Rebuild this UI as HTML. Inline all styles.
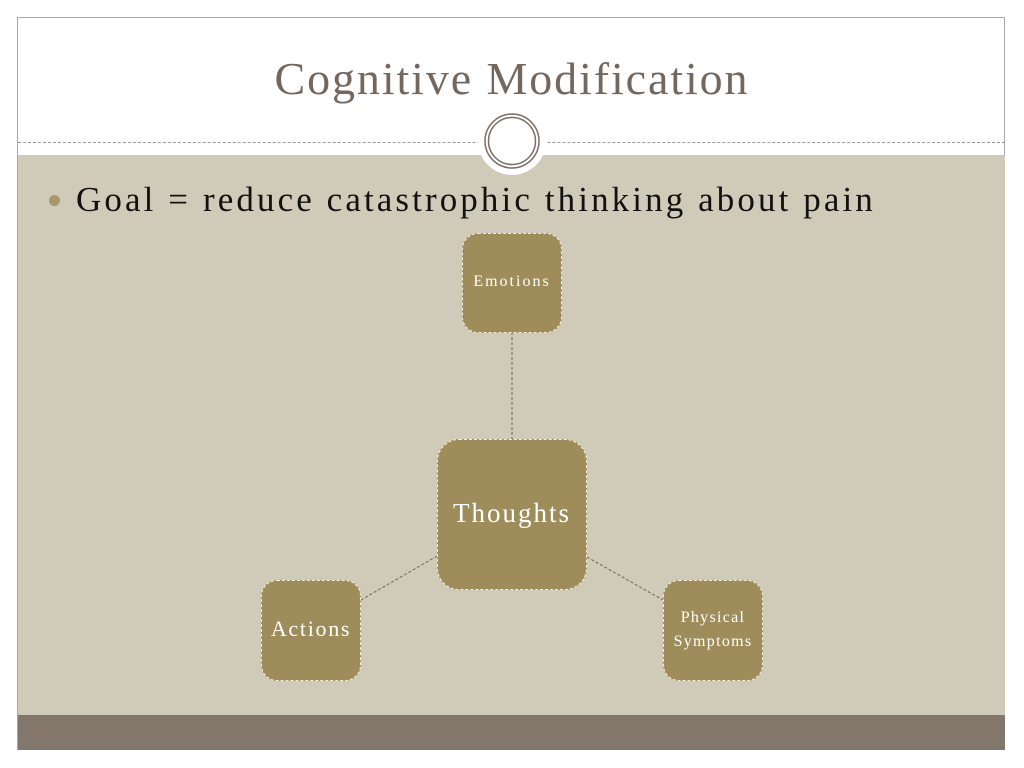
<!DOCTYPE html>
<html><head><meta charset="utf-8"><style>
body{margin:0;width:1024px;height:768px;background:#fff;position:relative;overflow:hidden;font-family:"Liberation Serif",serif}
.frame{position:absolute;left:17px;top:17px;width:988px;height:733px;border:1px solid #a8a8a8;box-sizing:border-box;background:#fff}
.body{position:absolute;left:18px;top:155px;width:987px;height:560px;background:#d0cbb8}
.band{position:absolute;left:18px;top:715px;width:987px;height:35px;background:#83776c}
.dash{position:absolute;left:18px;top:142px;width:987px;border-top:1px dashed #999}
.title{position:absolute;left:0;width:1024px;top:52px;text-align:center;font-size:46px;color:#74675e;letter-spacing:1.9px}
.bullet{position:absolute;left:76px;top:180px;font-size:35px;color:#111;letter-spacing:3.1px}
.dot{position:absolute;left:49px;top:195px;width:11px;height:11px;border-radius:50%;background:#a8976a}
.box{position:absolute;background:#9e8d5b;border:1px dashed #f4eedc;border-radius:16px;box-sizing:border-box;color:#fff;display:flex;align-items:center;justify-content:center;text-align:center}
</style></head><body>
<div class="frame"></div>
<div class="body"></div>
<div class="band"></div>
<div class="dash"></div>
<div class="title">Cognitive Modification</div>
<svg style="position:absolute;left:0;top:0" width="1024" height="768">
<circle cx="512" cy="141" r="34" fill="#fff"/>
<circle cx="512" cy="141" r="27" fill="none" stroke="#7a6e66" stroke-width="1.5"/>
<circle cx="512" cy="141" r="23.5" fill="none" stroke="#7a6e66" stroke-width="1.5"/>
<g stroke="#6e665a" stroke-width="1" stroke-dasharray="3,2">
<line x1="512" y1="332" x2="512" y2="439"/>
<line x1="437" y1="556" x2="361" y2="600"/>
<line x1="587" y1="557" x2="663" y2="600"/>
</g>
</svg>
<div class="dot"></div>
<div class="bullet">Goal = reduce catastrophic thinking about pain</div>
<div class="box" style="left:462px;top:233px;width:100px;height:100px;align-items:flex-start;padding-top:39px;font-size:16px;letter-spacing:2px">Emotions</div>
<div class="box" style="left:437px;top:439px;width:150px;height:151px;align-items:flex-start;padding-top:58px;font-size:27px;border-radius:22px;letter-spacing:2px">Thoughts</div>
<div class="box" style="left:261px;top:580px;width:100px;height:101px;font-size:22px;letter-spacing:1.7px;padding-bottom:4px">Actions</div>
<div class="box" style="left:663px;top:580px;width:100px;height:101px;font-size:16px;line-height:24px;padding-bottom:2px;letter-spacing:1.3px">Physical<br>Symptoms</div>
</body></html>
